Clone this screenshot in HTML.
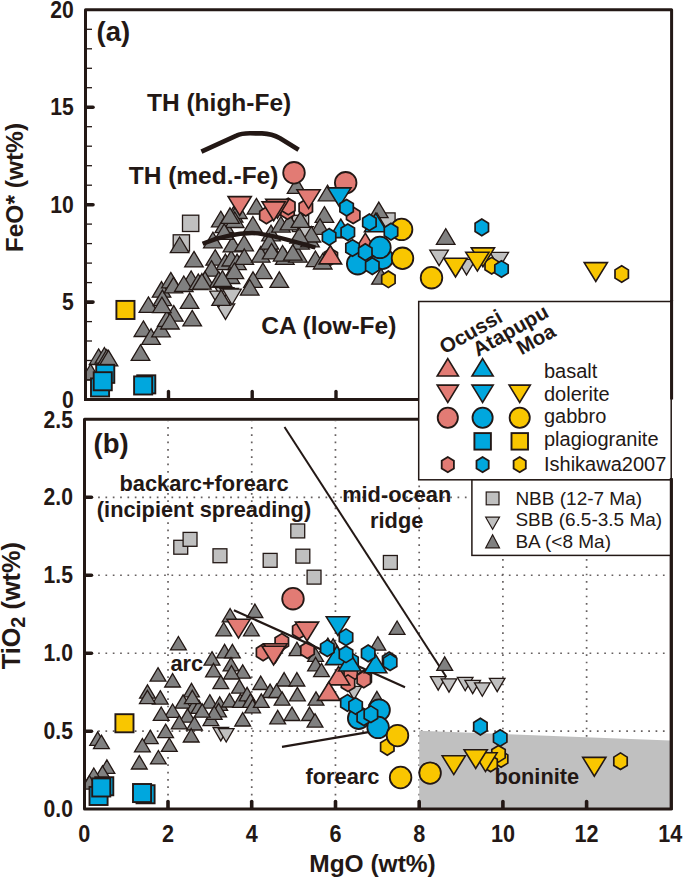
<!DOCTYPE html><html><head><meta charset="utf-8"><style>html,body{margin:0;padding:0;background:#fff;}svg{display:block;}</style></head><body><svg width="685" height="880" viewBox="0 0 685 880" font-family="Liberation Sans, sans-serif" fill="#231815">
<rect width="685" height="880" fill="#fff"/>
<defs><clipPath id="ca"><rect x="85.5" y="9.8" width="586" height="389.7"/></clipPath><clipPath id="cb"><rect x="84.5" y="419.3" width="586.8" height="389.7"/></clipPath></defs>
<line x1="168.02" y1="810.05" x2="168.02" y2="421" stroke="#666060" stroke-width="1.7" stroke-dasharray="1.7 5.635" />
<line x1="251.74" y1="810.05" x2="251.74" y2="421" stroke="#666060" stroke-width="1.7" stroke-dasharray="1.7 5.635" />
<line x1="335.46" y1="810.05" x2="335.46" y2="421" stroke="#666060" stroke-width="1.7" stroke-dasharray="1.7 5.635" />
<line x1="419.18" y1="810.05" x2="419.18" y2="421" stroke="#666060" stroke-width="1.7" stroke-dasharray="1.7 5.635" />
<line x1="502.90" y1="810.05" x2="502.90" y2="421" stroke="#666060" stroke-width="1.7" stroke-dasharray="1.7 5.635" />
<line x1="586.62" y1="810.05" x2="586.62" y2="421" stroke="#666060" stroke-width="1.7" stroke-dasharray="1.7 5.635" />
<line x1="83.45" y1="731.22" x2="670" y2="731.22" stroke="#666060" stroke-width="1.7" stroke-dasharray="1.7 5.635" />
<line x1="83.45" y1="653.24" x2="670" y2="653.24" stroke="#666060" stroke-width="1.7" stroke-dasharray="1.7 5.635" />
<line x1="83.45" y1="575.26" x2="670" y2="575.26" stroke="#666060" stroke-width="1.7" stroke-dasharray="1.7 5.635" />
<line x1="83.45" y1="497.28" x2="670" y2="497.28" stroke="#666060" stroke-width="1.7" stroke-dasharray="1.7 5.635" />
<polygon points="419.2,730.8 670,740.4 670,809 419.2,809" fill="#c0c0c0"/>
<path d="M201.4 151.6 L236.5 135.6 Q241 133.4 250 133.3 L262 133.4 Q272 133.8 280 138.2 L298.6 149.8" fill="none" stroke="#231815" stroke-width="4.6" stroke-linejoin="round"/>
<g clip-path="url(#ca)">
<rect x="182.5" y="215.2" width="16.3" height="16.3" fill="#c0c0c0" stroke="#231815" stroke-width="1.3"/>
<rect x="173.2" y="234.8" width="16.3" height="16.3" fill="#c0c0c0" stroke="#231815" stroke-width="1.3"/>
<rect x="378.8" y="212.9" width="16.3" height="16.3" fill="#c0c0c0" stroke="#231815" stroke-width="1.3"/>
<rect x="292.4" y="215.3" width="16.3" height="16.3" fill="#c0c0c0" stroke="#231815" stroke-width="1.3"/>
<path d="M215.3 287.6L233.9 287.6L224.6 303.1Z" fill="#c0c0c0" stroke="#231815" stroke-width="1.3" stroke-linejoin="miter"/>
<path d="M216.2 303.9L234.7 303.9L225.5 319.4Z" fill="#c0c0c0" stroke="#231815" stroke-width="1.3" stroke-linejoin="miter"/>
<path d="M219.8 288.4L238.3 288.4L229.1 303.9Z" fill="#c0c0c0" stroke="#231815" stroke-width="1.3" stroke-linejoin="miter"/>
<path d="M429.8 250.1L448.4 250.1L439.1 265.7Z" fill="#c0c0c0" stroke="#231815" stroke-width="1.3" stroke-linejoin="miter"/>
<path d="M457.2 259.3L475.8 259.3L466.5 274.9Z" fill="#c0c0c0" stroke="#231815" stroke-width="1.3" stroke-linejoin="miter"/>
<path d="M490.0 252.3L508.6 252.3L499.3 267.9Z" fill="#c0c0c0" stroke="#231815" stroke-width="1.3" stroke-linejoin="miter"/>
<path d="M294.7 226.7L313.3 226.7L304.0 242.3Z" fill="#c0c0c0" stroke="#231815" stroke-width="1.3" stroke-linejoin="miter"/>
<path d="M209.7 291.2L228.3 291.2L219.0 306.8Z" fill="#c0c0c0" stroke="#231815" stroke-width="1.3" stroke-linejoin="miter"/>
<path d="M222.7 289.2L241.3 289.2L232.0 304.8Z" fill="#c0c0c0" stroke="#231815" stroke-width="1.3" stroke-linejoin="miter"/>
<path d="M98.6 348.9L107.9 364.5L89.3 364.5Z" fill="#808080" stroke="#231815" stroke-width="1.3" stroke-linejoin="miter"/>
<path d="M104.4 347.5L113.7 363.1L95.1 363.1Z" fill="#808080" stroke="#231815" stroke-width="1.3" stroke-linejoin="miter"/>
<path d="M106.8 349.5L116.1 365.1L97.5 365.1Z" fill="#808080" stroke="#231815" stroke-width="1.3" stroke-linejoin="miter"/>
<path d="M108.5 350.3L117.8 365.9L99.2 365.9Z" fill="#808080" stroke="#231815" stroke-width="1.3" stroke-linejoin="miter"/>
<path d="M90.6 364.2L99.9 379.8L81.3 379.8Z" fill="#808080" stroke="#231815" stroke-width="1.3" stroke-linejoin="miter"/>
<path d="M143.4 320.9L152.7 336.5L134.1 336.5Z" fill="#808080" stroke="#231815" stroke-width="1.3" stroke-linejoin="miter"/>
<path d="M151.0 328.7L160.3 344.3L141.7 344.3Z" fill="#808080" stroke="#231815" stroke-width="1.3" stroke-linejoin="miter"/>
<path d="M140.5 344.7L149.8 360.3L131.2 360.3Z" fill="#808080" stroke="#231815" stroke-width="1.3" stroke-linejoin="miter"/>
<path d="M161.0 321.2L170.3 336.8L151.7 336.8Z" fill="#808080" stroke="#231815" stroke-width="1.3" stroke-linejoin="miter"/>
<path d="M148.4 296.9L157.7 312.4L139.1 312.4Z" fill="#808080" stroke="#231815" stroke-width="1.3" stroke-linejoin="miter"/>
<path d="M161.5 281.6L170.8 297.2L152.3 297.2Z" fill="#808080" stroke="#231815" stroke-width="1.3" stroke-linejoin="miter"/>
<path d="M162.4 290.1L171.7 305.6L153.2 305.6Z" fill="#808080" stroke="#231815" stroke-width="1.3" stroke-linejoin="miter"/>
<path d="M173.8 305.6L183.1 321.2L164.5 321.2Z" fill="#808080" stroke="#231815" stroke-width="1.3" stroke-linejoin="miter"/>
<path d="M166.8 310.9L176.1 326.4L157.5 326.4Z" fill="#808080" stroke="#231815" stroke-width="1.3" stroke-linejoin="miter"/>
<path d="M169.9 313.5L179.2 329.0L160.7 329.0Z" fill="#808080" stroke="#231815" stroke-width="1.3" stroke-linejoin="miter"/>
<path d="M192.2 310.4L201.5 325.9L182.9 325.9Z" fill="#808080" stroke="#231815" stroke-width="1.3" stroke-linejoin="miter"/>
<path d="M189.6 292.9L198.8 308.4L180.3 308.4Z" fill="#808080" stroke="#231815" stroke-width="1.3" stroke-linejoin="miter"/>
<path d="M221.1 289.9L230.4 305.4L211.8 305.4Z" fill="#808080" stroke="#231815" stroke-width="1.3" stroke-linejoin="miter"/>
<path d="M179.6 237.0L188.9 252.6L170.3 252.6Z" fill="#808080" stroke="#231815" stroke-width="1.3" stroke-linejoin="miter"/>
<path d="M194.0 251.4L203.2 266.9L184.7 266.9Z" fill="#808080" stroke="#231815" stroke-width="1.3" stroke-linejoin="miter"/>
<path d="M170.8 272.4L180.1 287.9L161.6 287.9Z" fill="#808080" stroke="#231815" stroke-width="1.3" stroke-linejoin="miter"/>
<path d="M173.5 277.3L182.7 292.8L164.2 292.8Z" fill="#808080" stroke="#231815" stroke-width="1.3" stroke-linejoin="miter"/>
<path d="M215.2 249.7L224.4 265.2L205.9 265.2Z" fill="#808080" stroke="#231815" stroke-width="1.3" stroke-linejoin="miter"/>
<path d="M225.4 254.1L234.7 269.6L216.1 269.6Z" fill="#808080" stroke="#231815" stroke-width="1.3" stroke-linejoin="miter"/>
<path d="M211.5 260.7L220.8 276.2L202.3 276.2Z" fill="#808080" stroke="#231815" stroke-width="1.3" stroke-linejoin="miter"/>
<path d="M231.2 250.5L240.5 266.0L222.0 266.0Z" fill="#808080" stroke="#231815" stroke-width="1.3" stroke-linejoin="miter"/>
<path d="M237.1 254.1L246.3 269.6L227.8 269.6Z" fill="#808080" stroke="#231815" stroke-width="1.3" stroke-linejoin="miter"/>
<path d="M191.1 270.9L200.4 286.4L181.8 286.4Z" fill="#808080" stroke="#231815" stroke-width="1.3" stroke-linejoin="miter"/>
<path d="M183.8 276.0L193.1 291.5L174.5 291.5Z" fill="#808080" stroke="#231815" stroke-width="1.3" stroke-linejoin="miter"/>
<path d="M205.0 271.6L214.2 287.1L195.7 287.1Z" fill="#808080" stroke="#231815" stroke-width="1.3" stroke-linejoin="miter"/>
<path d="M218.8 271.6L228.1 287.1L209.6 287.1Z" fill="#808080" stroke="#231815" stroke-width="1.3" stroke-linejoin="miter"/>
<path d="M230.5 268.0L239.8 283.5L221.3 283.5Z" fill="#808080" stroke="#231815" stroke-width="1.3" stroke-linejoin="miter"/>
<path d="M161.9 297.2L171.2 312.7L152.6 312.7Z" fill="#808080" stroke="#231815" stroke-width="1.3" stroke-linejoin="miter"/>
<path d="M220.8 211.2L230.1 226.8L211.5 226.8Z" fill="#808080" stroke="#231815" stroke-width="1.3" stroke-linejoin="miter"/>
<path d="M233.6 206.6L242.9 222.2L224.3 222.2Z" fill="#808080" stroke="#231815" stroke-width="1.3" stroke-linejoin="miter"/>
<path d="M237.9 202.9L247.2 218.5L228.6 218.5Z" fill="#808080" stroke="#231815" stroke-width="1.3" stroke-linejoin="miter"/>
<path d="M256.4 198.4L265.7 214.0L247.1 214.0Z" fill="#808080" stroke="#231815" stroke-width="1.3" stroke-linejoin="miter"/>
<path d="M252.9 216.5L262.2 232.1L243.6 232.1Z" fill="#808080" stroke="#231815" stroke-width="1.3" stroke-linejoin="miter"/>
<path d="M224.3 217.1L233.6 232.7L215.0 232.7Z" fill="#808080" stroke="#231815" stroke-width="1.3" stroke-linejoin="miter"/>
<path d="M212.9 232.2L222.2 247.8L203.6 247.8Z" fill="#808080" stroke="#231815" stroke-width="1.3" stroke-linejoin="miter"/>
<path d="M232.4 236.3L241.7 251.9L223.1 251.9Z" fill="#808080" stroke="#231815" stroke-width="1.3" stroke-linejoin="miter"/>
<path d="M244.1 235.2L253.4 250.8L234.8 250.8Z" fill="#808080" stroke="#231815" stroke-width="1.3" stroke-linejoin="miter"/>
<path d="M271.0 225.2L280.3 240.8L261.7 240.8Z" fill="#808080" stroke="#231815" stroke-width="1.3" stroke-linejoin="miter"/>
<path d="M270.4 239.2L279.7 254.8L261.1 254.8Z" fill="#808080" stroke="#231815" stroke-width="1.3" stroke-linejoin="miter"/>
<path d="M280.9 216.5L290.2 232.1L271.6 232.1Z" fill="#808080" stroke="#231815" stroke-width="1.3" stroke-linejoin="miter"/>
<path d="M244.3 248.8L253.6 264.4L235.0 264.4Z" fill="#808080" stroke="#231815" stroke-width="1.3" stroke-linejoin="miter"/>
<path d="M260.7 246.6L270.0 262.2L251.4 262.2Z" fill="#808080" stroke="#231815" stroke-width="1.3" stroke-linejoin="miter"/>
<path d="M269.4 233.5L278.7 249.1L260.1 249.1Z" fill="#808080" stroke="#231815" stroke-width="1.3" stroke-linejoin="miter"/>
<path d="M271.6 243.3L280.9 258.9L262.3 258.9Z" fill="#808080" stroke="#231815" stroke-width="1.3" stroke-linejoin="miter"/>
<path d="M284.8 248.8L294.1 264.4L275.5 264.4Z" fill="#808080" stroke="#231815" stroke-width="1.3" stroke-linejoin="miter"/>
<path d="M282.6 245.5L291.9 261.1L273.3 261.1Z" fill="#808080" stroke="#231815" stroke-width="1.3" stroke-linejoin="miter"/>
<path d="M297.9 246.6L307.2 262.2L288.6 262.2Z" fill="#808080" stroke="#231815" stroke-width="1.3" stroke-linejoin="miter"/>
<path d="M300.1 233.5L309.4 249.1L290.8 249.1Z" fill="#808080" stroke="#231815" stroke-width="1.3" stroke-linejoin="miter"/>
<path d="M310.0 231.3L319.3 246.9L300.7 246.9Z" fill="#808080" stroke="#231815" stroke-width="1.3" stroke-linejoin="miter"/>
<path d="M315.4 251.0L324.7 266.6L306.1 266.6Z" fill="#808080" stroke="#231815" stroke-width="1.3" stroke-linejoin="miter"/>
<path d="M262.9 263.0L272.2 278.6L253.6 278.6Z" fill="#808080" stroke="#231815" stroke-width="1.3" stroke-linejoin="miter"/>
<path d="M253.0 271.8L262.3 287.4L243.7 287.4Z" fill="#808080" stroke="#231815" stroke-width="1.3" stroke-linejoin="miter"/>
<path d="M279.3 271.8L288.6 287.4L270.0 287.4Z" fill="#808080" stroke="#231815" stroke-width="1.3" stroke-linejoin="miter"/>
<path d="M249.7 279.5L259.0 295.1L240.4 295.1Z" fill="#808080" stroke="#231815" stroke-width="1.3" stroke-linejoin="miter"/>
<path d="M198.3 274.0L207.6 289.6L189.0 289.6Z" fill="#808080" stroke="#231815" stroke-width="1.3" stroke-linejoin="miter"/>
<path d="M234.4 263.0L243.7 278.6L225.1 278.6Z" fill="#808080" stroke="#231815" stroke-width="1.3" stroke-linejoin="miter"/>
<path d="M222.4 270.7L231.7 286.3L213.1 286.3Z" fill="#808080" stroke="#231815" stroke-width="1.3" stroke-linejoin="miter"/>
<path d="M201.9 273.6L211.2 289.2L192.6 289.2Z" fill="#808080" stroke="#231815" stroke-width="1.3" stroke-linejoin="miter"/>
<path d="M234.7 211.9L244.0 227.5L225.4 227.5Z" fill="#808080" stroke="#231815" stroke-width="1.3" stroke-linejoin="miter"/>
<path d="M296.6 177.7L305.9 193.3L287.3 193.3Z" fill="#808080" stroke="#231815" stroke-width="1.3" stroke-linejoin="miter"/>
<path d="M327.5 185.2L336.8 200.8L318.2 200.8Z" fill="#808080" stroke="#231815" stroke-width="1.3" stroke-linejoin="miter"/>
<path d="M324.4 206.7L333.7 222.3L315.1 222.3Z" fill="#808080" stroke="#231815" stroke-width="1.3" stroke-linejoin="miter"/>
<path d="M378.8 202.1L388.1 217.7L369.5 217.7Z" fill="#808080" stroke="#231815" stroke-width="1.3" stroke-linejoin="miter"/>
<path d="M320.0 218.7L329.3 234.3L310.7 234.3Z" fill="#808080" stroke="#231815" stroke-width="1.3" stroke-linejoin="miter"/>
<path d="M311.3 226.4L320.6 242.0L302.0 242.0Z" fill="#808080" stroke="#231815" stroke-width="1.3" stroke-linejoin="miter"/>
<path d="M299.2 227.5L308.5 243.1L289.9 243.1Z" fill="#808080" stroke="#231815" stroke-width="1.3" stroke-linejoin="miter"/>
<path d="M289.4 214.3L298.7 229.9L280.1 229.9Z" fill="#808080" stroke="#231815" stroke-width="1.3" stroke-linejoin="miter"/>
<path d="M377.0 213.0L386.3 228.6L367.7 228.6Z" fill="#808080" stroke="#231815" stroke-width="1.3" stroke-linejoin="miter"/>
<path d="M445.7 228.7L455.0 244.3L436.4 244.3Z" fill="#808080" stroke="#231815" stroke-width="1.3" stroke-linejoin="miter"/>
<path d="M322.7 253.4L332.0 269.0L313.4 269.0Z" fill="#808080" stroke="#231815" stroke-width="1.3" stroke-linejoin="miter"/>
<path d="M381.0 268.6L390.3 284.2L371.7 284.2Z" fill="#808080" stroke="#231815" stroke-width="1.3" stroke-linejoin="miter"/>
<path d="M230.0 207.8L239.3 223.3L220.8 223.3Z" fill="#808080" stroke="#231815" stroke-width="1.3" stroke-linejoin="miter"/>
<path d="M224.2 223.9L233.5 239.4L214.9 239.4Z" fill="#808080" stroke="#231815" stroke-width="1.3" stroke-linejoin="miter"/>
<path d="M300.4 211.8L309.7 227.4L291.1 227.4Z" fill="#808080" stroke="#231815" stroke-width="1.3" stroke-linejoin="miter"/>
<path d="M292.8 244.6L302.1 260.2L283.5 260.2Z" fill="#808080" stroke="#231815" stroke-width="1.3" stroke-linejoin="miter"/>
<polygon points="266.4,207.1 259.7,211.2 259.7,219.6 266.4,223.7 273.1,219.6 273.1,211.2" fill="#e27b74" stroke="#231815" stroke-width="1.7" stroke-linejoin="miter"/>
<polygon points="287.5,202.7 280.8,206.8 280.8,215.2 287.5,219.3 294.2,215.2 294.2,206.8" fill="#e27b74" stroke="#231815" stroke-width="1.7" stroke-linejoin="miter"/>
<polygon points="305.8,199.3 299.1,203.4 299.1,211.8 305.8,215.9 312.5,211.8 312.5,203.4" fill="#e27b74" stroke="#231815" stroke-width="1.7" stroke-linejoin="miter"/>
<polygon points="353.2,207.0 346.5,211.2 346.5,219.5 353.2,223.6 359.9,219.5 359.9,211.2" fill="#e27b74" stroke="#231815" stroke-width="1.7" stroke-linejoin="miter"/>
<polygon points="288.3,198.2 281.6,202.3 281.6,210.7 288.3,214.8 295.0,210.7 295.0,202.3" fill="#e27b74" stroke="#231815" stroke-width="1.7" stroke-linejoin="miter"/>
<polygon points="330.8,248.4 324.1,252.5 324.1,260.8 330.8,265.0 337.5,260.8 337.5,252.5" fill="#e27b74" stroke="#231815" stroke-width="1.7" stroke-linejoin="miter"/>
<polygon points="388.4,271.0 381.7,275.2 381.7,283.4 388.4,287.6 395.1,283.4 395.1,275.2" fill="#f9c600" stroke="#231815" stroke-width="1.7" stroke-linejoin="miter"/>
<polygon points="491.7,257.4 485.0,261.6 485.0,269.8 491.7,274.0 498.4,269.8 498.4,261.6" fill="#f9c600" stroke="#231815" stroke-width="1.7" stroke-linejoin="miter"/>
<polygon points="621.7,265.7 615.0,269.9 615.0,278.1 621.7,282.3 628.4,278.1 628.4,269.9" fill="#f9c600" stroke="#231815" stroke-width="1.7" stroke-linejoin="miter"/>
<circle cx="294.0" cy="172.8" r="10.8" fill="#e27b74" stroke="#231815" stroke-width="1.8"/>
<circle cx="345.7" cy="182.8" r="10.8" fill="#e27b74" stroke="#231815" stroke-width="1.8"/>
<path d="M265.8 199.4L289.0 199.4L277.4 218.2Z" fill="#e27b74" stroke="#231815" stroke-width="1.6" stroke-linejoin="miter"/>
<path d="M262.1 201.9L285.3 201.9L273.7 220.7Z" fill="#e27b74" stroke="#231815" stroke-width="1.6" stroke-linejoin="miter"/>
<path d="M228.1 196.6L251.3 196.6L239.7 215.4Z" fill="#e27b74" stroke="#231815" stroke-width="1.6" stroke-linejoin="miter"/>
<path d="M297.0 189.8L320.2 189.8L308.6 208.6Z" fill="#e27b74" stroke="#231815" stroke-width="1.6" stroke-linejoin="miter"/>
<path d="M330.3 245.5L341.6 263.9L319.0 263.9Z" fill="#e27b74" stroke="#231815" stroke-width="1.6" stroke-linejoin="miter"/>
<path d="M365.3 233.2L376.6 251.6L354.0 251.6Z" fill="#e27b74" stroke="#231815" stroke-width="1.6" stroke-linejoin="miter"/>
<path d="M202.6 243.7 C218 237.5 236 233 252 233 C268 233.3 290 240.5 315.5 247.5" fill="none" stroke="#231815" stroke-width="4.4"/>
<circle cx="382.3" cy="258.3" r="10.8" fill="#00a7de" stroke="#231815" stroke-width="1.8"/>
<circle cx="357.7" cy="263.7" r="10.8" fill="#00a7de" stroke="#231815" stroke-width="1.8"/>
<circle cx="379.9" cy="247.4" r="10.8" fill="#00a7de" stroke="#231815" stroke-width="1.8"/>
<rect x="91.0" y="378.4" width="18.1" height="18.1" fill="#00a7de" stroke="#231815" stroke-width="1.9"/>
<rect x="96.2" y="364.8" width="18.1" height="18.1" fill="#00a7de" stroke="#231815" stroke-width="1.9"/>
<rect x="93.7" y="372.2" width="18.1" height="18.1" fill="#00a7de" stroke="#231815" stroke-width="1.9"/>
<rect x="137.2" y="375.3" width="18.1" height="18.1" fill="#00a7de" stroke="#231815" stroke-width="1.9"/>
<rect x="134.1" y="376.4" width="18.1" height="18.1" fill="#00a7de" stroke="#231815" stroke-width="1.9"/>
<circle cx="401.6" cy="229.4" r="10.8" fill="#f9c600" stroke="#231815" stroke-width="1.8"/>
<circle cx="402.5" cy="258.3" r="10.8" fill="#f9c600" stroke="#231815" stroke-width="1.8"/>
<circle cx="431.5" cy="277.7" r="10.8" fill="#f9c600" stroke="#231815" stroke-width="1.8"/>
<path d="M471.3 247.9L494.5 247.9L482.9 266.7Z" fill="#f9c600" stroke="#231815" stroke-width="1.6" stroke-linejoin="miter"/>
<path d="M465.8 252.3L489.0 252.3L477.4 271.1Z" fill="#f9c600" stroke="#231815" stroke-width="1.6" stroke-linejoin="miter"/>
<path d="M443.9 258.2L467.1 258.2L455.5 277.0Z" fill="#f9c600" stroke="#231815" stroke-width="1.6" stroke-linejoin="miter"/>
<path d="M584.2 262.6L607.4 262.6L595.8 281.4Z" fill="#f9c600" stroke="#231815" stroke-width="1.6" stroke-linejoin="miter"/>
<rect x="116.4" y="300.9" width="18.1" height="18.1" fill="#f9c600" stroke="#231815" stroke-width="1.9"/>
<path d="M327.8 187.9L351.0 187.9L339.4 206.7Z" fill="#00a7de" stroke="#231815" stroke-width="1.6" stroke-linejoin="miter"/>
<path d="M375.8 213.4L387.1 231.8L364.5 231.8Z" fill="#00a7de" stroke="#231815" stroke-width="1.6" stroke-linejoin="miter"/>
<path d="M340.8 219.2L352.1 237.6L329.5 237.6Z" fill="#00a7de" stroke="#231815" stroke-width="1.6" stroke-linejoin="miter"/>
<polygon points="346.6,199.4 339.9,203.5 339.9,211.8 346.6,216.0 353.3,211.8 353.3,203.5" fill="#00a7de" stroke="#231815" stroke-width="1.7" stroke-linejoin="miter"/>
<polygon points="369.4,214.0 362.7,218.2 362.7,226.5 369.4,230.6 376.1,226.5 376.1,218.2" fill="#00a7de" stroke="#231815" stroke-width="1.7" stroke-linejoin="miter"/>
<polygon points="391.0,223.3 384.3,227.4 384.3,235.8 391.0,239.9 397.7,235.8 397.7,227.4" fill="#00a7de" stroke="#231815" stroke-width="1.7" stroke-linejoin="miter"/>
<polygon points="329.1,228.6 322.4,232.8 322.4,241.1 329.1,245.2 335.8,241.1 335.8,232.8" fill="#00a7de" stroke="#231815" stroke-width="1.7" stroke-linejoin="miter"/>
<polygon points="347.8,223.9 341.1,228.0 341.1,236.3 347.8,240.5 354.5,236.3 354.5,228.0" fill="#00a7de" stroke="#231815" stroke-width="1.7" stroke-linejoin="miter"/>
<polygon points="352.5,239.7 345.8,243.8 345.8,252.2 352.5,256.3 359.2,252.2 359.2,243.8" fill="#00a7de" stroke="#231815" stroke-width="1.7" stroke-linejoin="miter"/>
<polygon points="365.3,243.8 358.6,247.9 358.6,256.2 365.3,260.4 372.0,256.2 372.0,247.9" fill="#00a7de" stroke="#231815" stroke-width="1.7" stroke-linejoin="miter"/>
<polygon points="372.3,257.8 365.6,262.0 365.6,270.2 372.3,274.4 379.0,270.2 379.0,262.0" fill="#00a7de" stroke="#231815" stroke-width="1.7" stroke-linejoin="miter"/>
<polygon points="481.8,219.1 475.1,223.2 475.1,231.6 481.8,235.7 488.5,231.6 488.5,223.2" fill="#00a7de" stroke="#231815" stroke-width="1.7" stroke-linejoin="miter"/>
<polygon points="501.5,260.7 494.8,264.9 494.8,273.1 501.5,277.3 508.2,273.1 508.2,264.9" fill="#00a7de" stroke="#231815" stroke-width="1.7" stroke-linejoin="miter"/>
</g>
<g clip-path="url(#cb)">
<line x1="284.5" y1="427" x2="446" y2="676.5" stroke="#231815" stroke-width="2"/>
<rect x="173.8" y="540.3" width="13.9" height="13.9" fill="#c0c0c0" stroke="#231815" stroke-width="1.3"/>
<rect x="183.1" y="532.4" width="13.9" height="13.9" fill="#c0c0c0" stroke="#231815" stroke-width="1.3"/>
<rect x="213.0" y="548.8" width="13.9" height="13.9" fill="#c0c0c0" stroke="#231815" stroke-width="1.3"/>
<rect x="263.2" y="553.4" width="13.9" height="13.9" fill="#c0c0c0" stroke="#231815" stroke-width="1.3"/>
<rect x="290.8" y="524.0" width="13.9" height="13.9" fill="#c0c0c0" stroke="#231815" stroke-width="1.3"/>
<rect x="295.9" y="549.2" width="13.9" height="13.9" fill="#c0c0c0" stroke="#231815" stroke-width="1.3"/>
<rect x="307.1" y="570.2" width="13.9" height="13.9" fill="#c0c0c0" stroke="#231815" stroke-width="1.3"/>
<rect x="383.4" y="555.5" width="13.9" height="13.9" fill="#c0c0c0" stroke="#231815" stroke-width="1.3"/>
<path d="M430.4 676.7L446.0 676.7L438.2 690.1Z" fill="#c0c0c0" stroke="#231815" stroke-width="1.3" stroke-linejoin="miter"/>
<path d="M441.2 678.8L456.8 678.8L449.0 692.2Z" fill="#c0c0c0" stroke="#231815" stroke-width="1.3" stroke-linejoin="miter"/>
<path d="M457.4 677.4L473.0 677.4L465.2 690.8Z" fill="#c0c0c0" stroke="#231815" stroke-width="1.3" stroke-linejoin="miter"/>
<path d="M464.9 680.3L480.5 680.3L472.7 693.7Z" fill="#c0c0c0" stroke="#231815" stroke-width="1.3" stroke-linejoin="miter"/>
<path d="M474.5 682.9L490.1 682.9L482.3 696.3Z" fill="#c0c0c0" stroke="#231815" stroke-width="1.3" stroke-linejoin="miter"/>
<path d="M489.4 678.3L505.0 678.3L497.2 691.7Z" fill="#c0c0c0" stroke="#231815" stroke-width="1.3" stroke-linejoin="miter"/>
<path d="M213.0 727.5L228.6 727.5L220.8 740.9Z" fill="#c0c0c0" stroke="#231815" stroke-width="1.3" stroke-linejoin="miter"/>
<path d="M218.4 728.6L234.0 728.6L226.2 742.0Z" fill="#c0c0c0" stroke="#231815" stroke-width="1.3" stroke-linejoin="miter"/>
<path d="M346.2 686.3L361.8 686.3L354.0 699.7Z" fill="#c0c0c0" stroke="#231815" stroke-width="1.3" stroke-linejoin="miter"/>
<path d="M178.4 636.5L186.3 649.9L170.5 649.9Z" fill="#808080" stroke="#231815" stroke-width="1.3" stroke-linejoin="miter"/>
<path d="M230.1 608.5L238.0 621.9L222.2 621.9Z" fill="#808080" stroke="#231815" stroke-width="1.3" stroke-linejoin="miter"/>
<path d="M254.9 604.1L262.8 617.5L247.0 617.5Z" fill="#808080" stroke="#231815" stroke-width="1.3" stroke-linejoin="miter"/>
<path d="M223.7 622.5L231.6 635.9L215.8 635.9Z" fill="#808080" stroke="#231815" stroke-width="1.3" stroke-linejoin="miter"/>
<path d="M251.4 622.5L259.3 635.9L243.5 635.9Z" fill="#808080" stroke="#231815" stroke-width="1.3" stroke-linejoin="miter"/>
<path d="M212.0 651.7L219.9 665.1L204.1 665.1Z" fill="#808080" stroke="#231815" stroke-width="1.3" stroke-linejoin="miter"/>
<path d="M224.6 644.4L232.5 657.8L216.7 657.8Z" fill="#808080" stroke="#231815" stroke-width="1.3" stroke-linejoin="miter"/>
<path d="M232.4 644.4L240.3 657.8L224.5 657.8Z" fill="#808080" stroke="#231815" stroke-width="1.3" stroke-linejoin="miter"/>
<path d="M231.0 657.5L238.9 670.9L223.1 670.9Z" fill="#808080" stroke="#231815" stroke-width="1.3" stroke-linejoin="miter"/>
<path d="M213.5 663.4L221.4 676.8L205.6 676.8Z" fill="#808080" stroke="#231815" stroke-width="1.3" stroke-linejoin="miter"/>
<path d="M242.7 664.8L250.6 678.2L234.8 678.2Z" fill="#808080" stroke="#231815" stroke-width="1.3" stroke-linejoin="miter"/>
<path d="M158.0 667.7L165.9 681.1L150.1 681.1Z" fill="#808080" stroke="#231815" stroke-width="1.3" stroke-linejoin="miter"/>
<path d="M172.6 673.6L180.5 687.0L164.7 687.0Z" fill="#808080" stroke="#231815" stroke-width="1.3" stroke-linejoin="miter"/>
<path d="M231.5 665.6L239.4 679.0L223.6 679.0Z" fill="#808080" stroke="#231815" stroke-width="1.3" stroke-linejoin="miter"/>
<path d="M296.9 642.2L304.8 655.6L289.0 655.6Z" fill="#808080" stroke="#231815" stroke-width="1.3" stroke-linejoin="miter"/>
<path d="M315.6 648.0L323.5 661.4L307.7 661.4Z" fill="#808080" stroke="#231815" stroke-width="1.3" stroke-linejoin="miter"/>
<path d="M315.6 657.4L323.5 670.8L307.7 670.8Z" fill="#808080" stroke="#231815" stroke-width="1.3" stroke-linejoin="miter"/>
<path d="M333.1 638.7L341.0 652.1L325.2 652.1Z" fill="#808080" stroke="#231815" stroke-width="1.3" stroke-linejoin="miter"/>
<path d="M284.1 672.6L292.0 686.0L276.2 686.0Z" fill="#808080" stroke="#231815" stroke-width="1.3" stroke-linejoin="miter"/>
<path d="M296.9 672.6L304.8 686.0L289.0 686.0Z" fill="#808080" stroke="#231815" stroke-width="1.3" stroke-linejoin="miter"/>
<path d="M260.7 676.1L268.6 689.5L252.8 689.5Z" fill="#808080" stroke="#231815" stroke-width="1.3" stroke-linejoin="miter"/>
<path d="M147.5 684.8L155.4 698.2L139.6 698.2Z" fill="#808080" stroke="#231815" stroke-width="1.3" stroke-linejoin="miter"/>
<path d="M160.3 690.7L168.2 704.1L152.4 704.1Z" fill="#808080" stroke="#231815" stroke-width="1.3" stroke-linejoin="miter"/>
<path d="M191.5 683.4L199.4 696.8L183.6 696.8Z" fill="#808080" stroke="#231815" stroke-width="1.3" stroke-linejoin="miter"/>
<path d="M183.1 694.8L191.0 708.2L175.2 708.2Z" fill="#808080" stroke="#231815" stroke-width="1.3" stroke-linejoin="miter"/>
<path d="M172.6 704.0L180.5 717.4L164.7 717.4Z" fill="#808080" stroke="#231815" stroke-width="1.3" stroke-linejoin="miter"/>
<path d="M161.2 707.0L169.1 720.4L153.3 720.4Z" fill="#808080" stroke="#231815" stroke-width="1.3" stroke-linejoin="miter"/>
<path d="M193.6 700.0L201.5 713.4L185.7 713.4Z" fill="#808080" stroke="#231815" stroke-width="1.3" stroke-linejoin="miter"/>
<path d="M198.9 700.0L206.8 713.4L191.0 713.4Z" fill="#808080" stroke="#231815" stroke-width="1.3" stroke-linejoin="miter"/>
<path d="M187.5 708.8L195.4 722.2L179.6 722.2Z" fill="#808080" stroke="#231815" stroke-width="1.3" stroke-linejoin="miter"/>
<path d="M97.7 731.9L105.6 745.3L89.8 745.3Z" fill="#808080" stroke="#231815" stroke-width="1.3" stroke-linejoin="miter"/>
<path d="M101.4 735.2L109.3 748.6L93.5 748.6Z" fill="#808080" stroke="#231815" stroke-width="1.3" stroke-linejoin="miter"/>
<path d="M106.9 759.9L114.8 773.3L99.0 773.3Z" fill="#808080" stroke="#231815" stroke-width="1.3" stroke-linejoin="miter"/>
<path d="M102.5 765.8L110.4 779.2L94.6 779.2Z" fill="#808080" stroke="#231815" stroke-width="1.3" stroke-linejoin="miter"/>
<path d="M93.8 768.0L101.7 781.4L85.9 781.4Z" fill="#808080" stroke="#231815" stroke-width="1.3" stroke-linejoin="miter"/>
<path d="M89.4 775.7L97.3 789.1L81.5 789.1Z" fill="#808080" stroke="#231815" stroke-width="1.3" stroke-linejoin="miter"/>
<path d="M150.3 730.2L158.2 743.6L142.4 743.6Z" fill="#808080" stroke="#231815" stroke-width="1.3" stroke-linejoin="miter"/>
<path d="M142.4 738.5L150.3 751.9L134.5 751.9Z" fill="#808080" stroke="#231815" stroke-width="1.3" stroke-linejoin="miter"/>
<path d="M139.3 755.6L147.2 769.0L131.4 769.0Z" fill="#808080" stroke="#231815" stroke-width="1.3" stroke-linejoin="miter"/>
<path d="M158.4 750.5L166.3 763.9L150.5 763.9Z" fill="#808080" stroke="#231815" stroke-width="1.3" stroke-linejoin="miter"/>
<path d="M165.6 724.2L173.5 737.6L157.7 737.6Z" fill="#808080" stroke="#231815" stroke-width="1.3" stroke-linejoin="miter"/>
<path d="M169.3 738.0L177.2 751.4L161.4 751.4Z" fill="#808080" stroke="#231815" stroke-width="1.3" stroke-linejoin="miter"/>
<path d="M147.4 690.3L155.3 703.7L139.5 703.7Z" fill="#808080" stroke="#231815" stroke-width="1.3" stroke-linejoin="miter"/>
<path d="M192.3 690.3L200.2 703.7L184.4 703.7Z" fill="#808080" stroke="#231815" stroke-width="1.3" stroke-linejoin="miter"/>
<path d="M209.8 694.7L217.7 708.1L201.9 708.1Z" fill="#808080" stroke="#231815" stroke-width="1.3" stroke-linejoin="miter"/>
<path d="M219.7 696.9L227.6 710.3L211.8 710.3Z" fill="#808080" stroke="#231815" stroke-width="1.3" stroke-linejoin="miter"/>
<path d="M229.5 693.6L237.4 707.0L221.6 707.0Z" fill="#808080" stroke="#231815" stroke-width="1.3" stroke-linejoin="miter"/>
<path d="M194.5 716.6L202.4 730.0L186.6 730.0Z" fill="#808080" stroke="#231815" stroke-width="1.3" stroke-linejoin="miter"/>
<path d="M210.9 712.2L218.8 725.6L203.0 725.6Z" fill="#808080" stroke="#231815" stroke-width="1.3" stroke-linejoin="miter"/>
<path d="M218.6 703.4L226.5 716.8L210.7 716.8Z" fill="#808080" stroke="#231815" stroke-width="1.3" stroke-linejoin="miter"/>
<path d="M191.2 728.6L199.1 742.0L183.3 742.0Z" fill="#808080" stroke="#231815" stroke-width="1.3" stroke-linejoin="miter"/>
<path d="M179.2 715.5L187.1 728.9L171.3 728.9Z" fill="#808080" stroke="#231815" stroke-width="1.3" stroke-linejoin="miter"/>
<path d="M220.8 675.3L228.7 688.7L212.9 688.7Z" fill="#808080" stroke="#231815" stroke-width="1.3" stroke-linejoin="miter"/>
<path d="M239.4 679.7L247.3 693.1L231.5 693.1Z" fill="#808080" stroke="#231815" stroke-width="1.3" stroke-linejoin="miter"/>
<path d="M240.5 693.9L248.4 707.3L232.6 707.3Z" fill="#808080" stroke="#231815" stroke-width="1.3" stroke-linejoin="miter"/>
<path d="M247.1 687.4L255.0 700.8L239.2 700.8Z" fill="#808080" stroke="#231815" stroke-width="1.3" stroke-linejoin="miter"/>
<path d="M250.4 693.9L258.3 707.3L242.5 707.3Z" fill="#808080" stroke="#231815" stroke-width="1.3" stroke-linejoin="miter"/>
<path d="M214.2 706.0L222.1 719.4L206.3 719.4Z" fill="#808080" stroke="#231815" stroke-width="1.3" stroke-linejoin="miter"/>
<path d="M252.6 699.4L260.5 712.8L244.7 712.8Z" fill="#808080" stroke="#231815" stroke-width="1.3" stroke-linejoin="miter"/>
<path d="M242.7 712.6L250.6 726.0L234.8 726.0Z" fill="#808080" stroke="#231815" stroke-width="1.3" stroke-linejoin="miter"/>
<path d="M202.2 703.8L210.1 717.2L194.3 717.2Z" fill="#808080" stroke="#231815" stroke-width="1.3" stroke-linejoin="miter"/>
<path d="M270.1 684.1L278.0 697.5L262.2 697.5Z" fill="#808080" stroke="#231815" stroke-width="1.3" stroke-linejoin="miter"/>
<path d="M261.3 693.9L269.2 707.3L253.4 707.3Z" fill="#808080" stroke="#231815" stroke-width="1.3" stroke-linejoin="miter"/>
<path d="M276.6 684.1L284.5 697.5L268.7 697.5Z" fill="#808080" stroke="#231815" stroke-width="1.3" stroke-linejoin="miter"/>
<path d="M282.1 691.8L290.0 705.2L274.2 705.2Z" fill="#808080" stroke="#231815" stroke-width="1.3" stroke-linejoin="miter"/>
<path d="M297.4 687.4L305.3 700.8L289.5 700.8Z" fill="#808080" stroke="#231815" stroke-width="1.3" stroke-linejoin="miter"/>
<path d="M277.7 710.4L285.6 723.8L269.8 723.8Z" fill="#808080" stroke="#231815" stroke-width="1.3" stroke-linejoin="miter"/>
<path d="M292.0 707.1L299.9 720.5L284.1 720.5Z" fill="#808080" stroke="#231815" stroke-width="1.3" stroke-linejoin="miter"/>
<path d="M309.5 707.1L317.4 720.5L301.6 720.5Z" fill="#808080" stroke="#231815" stroke-width="1.3" stroke-linejoin="miter"/>
<path d="M315.0 713.7L322.9 727.1L307.1 727.1Z" fill="#808080" stroke="#231815" stroke-width="1.3" stroke-linejoin="miter"/>
<path d="M316.0 691.8L323.9 705.2L308.1 705.2Z" fill="#808080" stroke="#231815" stroke-width="1.3" stroke-linejoin="miter"/>
<path d="M321.5 663.3L329.4 676.7L313.6 676.7Z" fill="#808080" stroke="#231815" stroke-width="1.3" stroke-linejoin="miter"/>
<path d="M397.1 621.0L405.0 634.4L389.2 634.4Z" fill="#808080" stroke="#231815" stroke-width="1.3" stroke-linejoin="miter"/>
<path d="M377.8 636.7L385.7 650.1L369.9 650.1Z" fill="#808080" stroke="#231815" stroke-width="1.3" stroke-linejoin="miter"/>
<path d="M327.9 638.0L335.8 651.4L320.0 651.4Z" fill="#808080" stroke="#231815" stroke-width="1.3" stroke-linejoin="miter"/>
<path d="M376.9 691.4L384.8 704.8L369.0 704.8Z" fill="#808080" stroke="#231815" stroke-width="1.3" stroke-linejoin="miter"/>
<path d="M444.7 656.9L452.6 670.3L436.8 670.3Z" fill="#808080" stroke="#231815" stroke-width="1.3" stroke-linejoin="miter"/>
<polygon points="281.8,633.6 275.1,637.8 275.1,646.0 281.8,650.2 288.5,646.0 288.5,637.8" fill="#e27b74" stroke="#231815" stroke-width="1.7" stroke-linejoin="miter"/>
<polygon points="307.5,641.8 300.8,646.0 300.8,654.2 307.5,658.4 314.2,654.2 314.2,646.0" fill="#e27b74" stroke="#231815" stroke-width="1.7" stroke-linejoin="miter"/>
<polygon points="263.1,644.1 256.4,648.2 256.4,656.5 263.1,660.7 269.8,656.5 269.8,648.2" fill="#e27b74" stroke="#231815" stroke-width="1.7" stroke-linejoin="miter"/>
<polygon points="299.3,621.9 292.6,626.1 292.6,634.4 299.3,638.5 306.0,634.4 306.0,626.1" fill="#e27b74" stroke="#231815" stroke-width="1.7" stroke-linejoin="miter"/>
<polygon points="364.7,669.7 358.0,673.9 358.0,682.1 364.7,686.3 371.4,682.1 371.4,673.9" fill="#e27b74" stroke="#231815" stroke-width="1.7" stroke-linejoin="miter"/>
<polygon points="350.7,665.3 344.0,669.5 344.0,677.8 350.7,681.9 357.4,677.8 357.4,669.5" fill="#e27b74" stroke="#231815" stroke-width="1.7" stroke-linejoin="miter"/>
<polygon points="348.0,674.9 341.3,679.1 341.3,687.4 348.0,691.5 354.7,687.4 354.7,679.1" fill="#e27b74" stroke="#231815" stroke-width="1.7" stroke-linejoin="miter"/>
<polygon points="363.8,671.1 357.1,675.2 357.1,683.5 363.8,687.7 370.5,683.5 370.5,675.2" fill="#e27b74" stroke="#231815" stroke-width="1.7" stroke-linejoin="miter"/>
<polygon points="387.3,738.6 380.6,742.8 380.6,751.0 387.3,755.2 394.0,751.0 394.0,742.8" fill="#f9c600" stroke="#231815" stroke-width="1.7" stroke-linejoin="miter"/>
<polygon points="501.1,750.7 494.4,754.9 494.4,763.1 501.1,767.3 507.8,763.1 507.8,754.9" fill="#f9c600" stroke="#231815" stroke-width="1.7" stroke-linejoin="miter"/>
<polygon points="498.5,745.5 491.8,749.6 491.8,757.9 498.5,762.1 505.2,757.9 505.2,749.6" fill="#f9c600" stroke="#231815" stroke-width="1.7" stroke-linejoin="miter"/>
<polygon points="490.6,755.1 483.9,759.2 483.9,767.5 490.6,771.7 497.3,767.5 497.3,759.2" fill="#f9c600" stroke="#231815" stroke-width="1.7" stroke-linejoin="miter"/>
<polygon points="620.5,752.9 613.8,757.1 613.8,765.4 620.5,769.5 627.2,765.4 627.2,757.1" fill="#f9c600" stroke="#231815" stroke-width="1.7" stroke-linejoin="miter"/>
<circle cx="293.0" cy="598.7" r="10.8" fill="#e27b74" stroke="#231815" stroke-width="1.8"/>
<path d="M263.9 643.8L287.1 643.8L275.5 662.6Z" fill="#e27b74" stroke="#231815" stroke-width="1.6" stroke-linejoin="miter"/>
<path d="M262.0 646.2L285.2 646.2L273.6 665.0Z" fill="#e27b74" stroke="#231815" stroke-width="1.6" stroke-linejoin="miter"/>
<path d="M226.9 619.3L250.1 619.3L238.5 638.1Z" fill="#e27b74" stroke="#231815" stroke-width="1.6" stroke-linejoin="miter"/>
<path d="M295.4 622.1L318.6 622.1L307.0 640.9Z" fill="#e27b74" stroke="#231815" stroke-width="1.6" stroke-linejoin="miter"/>
<path d="M338.5 666.5L349.8 684.9L327.2 684.9Z" fill="#e27b74" stroke="#231815" stroke-width="1.6" stroke-linejoin="miter"/>
<path d="M328.8 682.0L340.1 700.4L317.5 700.4Z" fill="#e27b74" stroke="#231815" stroke-width="1.6" stroke-linejoin="miter"/>
<line x1="233.9" y1="610.2" x2="405" y2="687.2" stroke="#231815" stroke-width="2.2"/>
<line x1="282" y1="746.9" x2="369.9" y2="731.9" stroke="#231815" stroke-width="2.2"/>
<circle cx="379.1" cy="710.1" r="10.8" fill="#00a7de" stroke="#231815" stroke-width="1.8"/>
<circle cx="358.7" cy="718.2" r="10.8" fill="#00a7de" stroke="#231815" stroke-width="1.8"/>
<circle cx="378.1" cy="727.4" r="10.8" fill="#00a7de" stroke="#231815" stroke-width="1.8"/>
<rect x="95.2" y="777.2" width="18.1" height="18.1" fill="#00a7de" stroke="#231815" stroke-width="1.9"/>
<rect x="89.5" y="786.9" width="18.1" height="18.1" fill="#00a7de" stroke="#231815" stroke-width="1.9"/>
<rect x="92.2" y="778.4" width="18.1" height="18.1" fill="#00a7de" stroke="#231815" stroke-width="1.9"/>
<rect x="136.5" y="785.2" width="18.1" height="18.1" fill="#00a7de" stroke="#231815" stroke-width="1.9"/>
<rect x="133.0" y="784.0" width="18.1" height="18.1" fill="#00a7de" stroke="#231815" stroke-width="1.9"/>
<circle cx="397.5" cy="735.6" r="10.8" fill="#f9c600" stroke="#231815" stroke-width="1.8"/>
<circle cx="400.6" cy="777.5" r="10.8" fill="#f9c600" stroke="#231815" stroke-width="1.8"/>
<circle cx="430.1" cy="773.1" r="10.8" fill="#f9c600" stroke="#231815" stroke-width="1.8"/>
<path d="M473.9 752.8L497.1 752.8L485.5 771.6Z" fill="#f9c600" stroke="#231815" stroke-width="1.6" stroke-linejoin="miter"/>
<path d="M464.1 749.7L487.3 749.7L475.7 768.5Z" fill="#f9c600" stroke="#231815" stroke-width="1.6" stroke-linejoin="miter"/>
<path d="M442.2 755.8L465.4 755.8L453.8 774.6Z" fill="#f9c600" stroke="#231815" stroke-width="1.6" stroke-linejoin="miter"/>
<path d="M582.7 757.4L605.9 757.4L594.3 776.2Z" fill="#f9c600" stroke="#231815" stroke-width="1.6" stroke-linejoin="miter"/>
<rect x="115.4" y="714.2" width="18.1" height="18.1" fill="#f9c600" stroke="#231815" stroke-width="1.9"/>
<polygon points="351.5,652.9 344.8,657.1 344.8,665.4 351.5,669.5 358.2,665.4 358.2,657.1" fill="#00a7de" stroke="#231815" stroke-width="1.7" stroke-linejoin="miter"/>
<path d="M326.3 616.8L349.5 616.8L337.9 635.6Z" fill="#00a7de" stroke="#231815" stroke-width="1.6" stroke-linejoin="miter"/>
<path d="M375.5 654.4L386.8 672.8L364.2 672.8Z" fill="#00a7de" stroke="#231815" stroke-width="1.6" stroke-linejoin="miter"/>
<path d="M336.9 646.2L348.2 664.6L325.6 664.6Z" fill="#00a7de" stroke="#231815" stroke-width="1.6" stroke-linejoin="miter"/>
<path d="M349.8 652.6L361.1 671.0L338.5 671.0Z" fill="#00a7de" stroke="#231815" stroke-width="1.6" stroke-linejoin="miter"/>
<polygon points="346.0,628.9 339.3,633.1 339.3,641.4 346.0,645.5 352.7,641.4 352.7,633.1" fill="#00a7de" stroke="#231815" stroke-width="1.7" stroke-linejoin="miter"/>
<polygon points="327.3,639.9 320.6,644.1 320.6,652.4 327.3,656.5 334.0,652.4 334.0,644.1" fill="#00a7de" stroke="#231815" stroke-width="1.7" stroke-linejoin="miter"/>
<polygon points="346.0,646.0 339.3,650.1 339.3,658.4 346.0,662.6 352.7,658.4 352.7,650.1" fill="#00a7de" stroke="#231815" stroke-width="1.7" stroke-linejoin="miter"/>
<polygon points="368.2,645.1 361.5,649.2 361.5,657.5 368.2,661.7 374.9,657.5 374.9,649.2" fill="#00a7de" stroke="#231815" stroke-width="1.7" stroke-linejoin="miter"/>
<polygon points="389.2,652.1 382.5,656.2 382.5,664.5 389.2,668.7 395.9,664.5 395.9,656.2" fill="#00a7de" stroke="#231815" stroke-width="1.7" stroke-linejoin="miter"/>
<polygon points="390.1,653.9 383.4,658.1 383.4,666.4 390.1,670.5 396.8,666.4 396.8,658.1" fill="#00a7de" stroke="#231815" stroke-width="1.7" stroke-linejoin="miter"/>
<polygon points="347.4,694.6 340.7,698.8 340.7,707.0 347.4,711.2 354.1,707.0 354.1,698.8" fill="#00a7de" stroke="#231815" stroke-width="1.7" stroke-linejoin="miter"/>
<polygon points="355.6,697.7 348.9,701.9 348.9,710.1 355.6,714.3 362.3,710.1 362.3,701.9" fill="#00a7de" stroke="#231815" stroke-width="1.7" stroke-linejoin="miter"/>
<polygon points="363.8,708.9 357.1,713.1 357.1,721.4 363.8,725.5 370.5,721.4 370.5,713.1" fill="#00a7de" stroke="#231815" stroke-width="1.7" stroke-linejoin="miter"/>
<polygon points="370.9,705.9 364.2,710.1 364.2,718.4 370.9,722.5 377.6,718.4 377.6,710.1" fill="#00a7de" stroke="#231815" stroke-width="1.7" stroke-linejoin="miter"/>
<polygon points="480.4,718.3 473.7,722.5 473.7,730.8 480.4,734.9 487.1,730.8 487.1,722.5" fill="#00a7de" stroke="#231815" stroke-width="1.7" stroke-linejoin="miter"/>
<polygon points="500.2,729.7 493.5,733.9 493.5,742.1 500.2,746.3 506.9,742.1 506.9,733.9" fill="#00a7de" stroke="#231815" stroke-width="1.7" stroke-linejoin="miter"/>
</g>
<path d="M85.5 399.5 L85.5 9.8 L671.6 9.8 L671.6 301" fill="none" stroke="#231815" stroke-width="3" stroke-linejoin="round"/>
<line x1="84" y1="399.4" x2="418.7" y2="399.4" stroke="#231815" stroke-width="3"/>
<path d="M418.7 419.3 L84.5 419.3 L84.5 809 L671.3 809 L671.3 479" fill="none" stroke="#231815" stroke-width="3" stroke-linejoin="round"/>
<line x1="86" y1="380.0" x2="92" y2="380.0" stroke="#231815" stroke-width="1.3"/>
<line x1="86" y1="360.5" x2="92" y2="360.5" stroke="#231815" stroke-width="1.3"/>
<line x1="86" y1="341.0" x2="92" y2="341.0" stroke="#231815" stroke-width="1.3"/>
<line x1="86" y1="321.6" x2="92" y2="321.6" stroke="#231815" stroke-width="1.3"/>
<line x1="86" y1="302.1" x2="93" y2="302.1" stroke="#231815" stroke-width="3.6" stroke-linecap="round"/>
<line x1="86" y1="282.6" x2="92" y2="282.6" stroke="#231815" stroke-width="1.3"/>
<line x1="86" y1="263.1" x2="92" y2="263.1" stroke="#231815" stroke-width="1.3"/>
<line x1="86" y1="243.6" x2="92" y2="243.6" stroke="#231815" stroke-width="1.3"/>
<line x1="86" y1="224.1" x2="92" y2="224.1" stroke="#231815" stroke-width="1.3"/>
<line x1="86" y1="204.7" x2="93" y2="204.7" stroke="#231815" stroke-width="3.6" stroke-linecap="round"/>
<line x1="86" y1="185.2" x2="92" y2="185.2" stroke="#231815" stroke-width="1.3"/>
<line x1="86" y1="165.7" x2="92" y2="165.7" stroke="#231815" stroke-width="1.3"/>
<line x1="86" y1="146.2" x2="92" y2="146.2" stroke="#231815" stroke-width="1.3"/>
<line x1="86" y1="126.7" x2="92" y2="126.7" stroke="#231815" stroke-width="1.3"/>
<line x1="86" y1="107.2" x2="93" y2="107.2" stroke="#231815" stroke-width="3.6" stroke-linecap="round"/>
<line x1="86" y1="87.7" x2="92" y2="87.7" stroke="#231815" stroke-width="1.3"/>
<line x1="86" y1="68.3" x2="92" y2="68.3" stroke="#231815" stroke-width="1.3"/>
<line x1="86" y1="48.8" x2="92" y2="48.8" stroke="#231815" stroke-width="1.3"/>
<line x1="86" y1="29.3" x2="92" y2="29.3" stroke="#231815" stroke-width="1.3"/>
<line x1="168.5" y1="398" x2="168.5" y2="391.5" stroke="#231815" stroke-width="3.4" stroke-linecap="round"/>
<line x1="252.2" y1="398" x2="252.2" y2="391.5" stroke="#231815" stroke-width="3.4" stroke-linecap="round"/>
<line x1="336.0" y1="398" x2="336.0" y2="391.5" stroke="#231815" stroke-width="3.4" stroke-linecap="round"/>
<line x1="85" y1="731.2" x2="91.5" y2="731.2" stroke="#231815" stroke-width="3.6" stroke-linecap="round"/>
<line x1="85" y1="653.2" x2="91.5" y2="653.2" stroke="#231815" stroke-width="3.6" stroke-linecap="round"/>
<line x1="85" y1="575.3" x2="91.5" y2="575.3" stroke="#231815" stroke-width="3.6" stroke-linecap="round"/>
<line x1="85" y1="497.3" x2="91.5" y2="497.3" stroke="#231815" stroke-width="3.6" stroke-linecap="round"/>
<line x1="168.0" y1="808" x2="168.0" y2="801.5" stroke="#231815" stroke-width="3.6" stroke-linecap="round"/>
<line x1="251.7" y1="808" x2="251.7" y2="801.5" stroke="#231815" stroke-width="3.6" stroke-linecap="round"/>
<line x1="335.5" y1="808" x2="335.5" y2="801.5" stroke="#231815" stroke-width="3.6" stroke-linecap="round"/>
<line x1="419.2" y1="808" x2="419.2" y2="801.5" stroke="#231815" stroke-width="3.6" stroke-linecap="round"/>
<line x1="502.9" y1="808" x2="502.9" y2="801.5" stroke="#231815" stroke-width="3.6" stroke-linecap="round"/>
<line x1="586.6" y1="808" x2="586.6" y2="801.5" stroke="#231815" stroke-width="3.6" stroke-linecap="round"/>
<rect x="418.7" y="301.5" width="252.5" height="178.3" fill="#fff" stroke="#231815" stroke-width="1.5"/>
<line x1="671.6" y1="300" x2="671.6" y2="399.5" stroke="#231815" stroke-width="3"/>
<path d="M447.8 358.6L458.4 376.0L437.2 376.0Z" fill="#e27b74" stroke="#231815" stroke-width="1.6" stroke-linejoin="miter"/>
<path d="M482.6 358.6L493.2 376.0L472.0 376.0Z" fill="#00a7de" stroke="#231815" stroke-width="1.6" stroke-linejoin="miter"/>
<path d="M437.2 385.1L458.4 385.1L447.8 402.5Z" fill="#e27b74" stroke="#231815" stroke-width="1.6" stroke-linejoin="miter"/>
<path d="M472.0 385.1L493.2 385.1L482.6 402.5Z" fill="#00a7de" stroke="#231815" stroke-width="1.6" stroke-linejoin="miter"/>
<path d="M509.1 385.1L530.3 385.1L519.7 402.5Z" fill="#f9c600" stroke="#231815" stroke-width="1.6" stroke-linejoin="miter"/>
<circle cx="447.8" cy="417.8" r="10.1" fill="#e27b74" stroke="#231815" stroke-width="1.8"/>
<circle cx="482.6" cy="417.8" r="10.1" fill="#00a7de" stroke="#231815" stroke-width="1.8"/>
<circle cx="519.7" cy="417.8" r="10.1" fill="#f9c600" stroke="#231815" stroke-width="1.8"/>
<rect x="474.4" y="433.1" width="16.5" height="16.5" fill="#00a7de" stroke="#231815" stroke-width="1.9"/>
<rect x="511.5" y="433.1" width="16.5" height="16.5" fill="#f9c600" stroke="#231815" stroke-width="1.9"/>
<polygon points="447.8,457.0 441.7,460.8 441.7,468.4 447.8,472.2 453.9,468.4 453.9,460.8" fill="#e27b74" stroke="#231815" stroke-width="1.8" stroke-linejoin="miter"/>
<polygon points="482.6,457.0 476.5,460.8 476.5,468.4 482.6,472.2 488.7,468.4 488.7,460.8" fill="#00a7de" stroke="#231815" stroke-width="1.8" stroke-linejoin="miter"/>
<polygon points="519.7,457.0 513.6,460.8 513.6,468.4 519.7,472.2 525.8,468.4 525.8,460.8" fill="#f9c600" stroke="#231815" stroke-width="1.8" stroke-linejoin="miter"/>
<text x="544" y="378.2" font-size="20">basalt</text>
<text x="544" y="400.8" font-size="20">dolerite</text>
<text x="544" y="423.2" font-size="20">gabbro</text>
<text x="544" y="446.2" font-size="20">plagiogranite</text>
<text x="544" y="470.8" font-size="20">Ishikawa2007</text>
<text font-size="20.5" font-weight="bold" transform="translate(444.5,354.6) rotate(-29.5)">Ocussi</text>
<text font-size="20.5" font-weight="bold" transform="translate(477.8,357) rotate(-29.5)">Atapupu</text>
<text font-size="20.5" font-weight="bold" transform="translate(521.5,355.5) rotate(-29.5)">Moa</text>
<rect x="471.9" y="479.9" width="199" height="75.5" fill="#fff" stroke="#231815" stroke-width="1.5"/>
<line x1="671.3" y1="478" x2="671.3" y2="810" stroke="#231815" stroke-width="3"/>
<rect x="486.2" y="492.0" width="12.8" height="12.8" fill="#c0c0c0" stroke="#231815" stroke-width="1.2"/>
<path d="M485.7 517.2L499.5 517.2L492.6 529.2Z" fill="#c0c0c0" stroke="#231815" stroke-width="1.2" stroke-linejoin="miter"/>
<path d="M492.6 534.8L499.5 547.8L485.7 547.8Z" fill="#808080" stroke="#231815" stroke-width="1.2" stroke-linejoin="miter"/>
<text x="515.4" y="505" font-size="19">NBB (12-7 Ma)</text>
<text x="515.4" y="526.3" font-size="19">SBB (6.5-3.5 Ma)</text>
<text x="515.4" y="548.1" font-size="19">BA (&lt;8 Ma)</text>
<text transform="translate(73.8,18.00000000000001) scale(0.92,1)" font-size="23" font-weight="bold" text-anchor="end">20</text>
<text transform="translate(73.8,115.42500000000003) scale(0.92,1)" font-size="23" font-weight="bold" text-anchor="end">15</text>
<text transform="translate(73.8,212.85) scale(0.92,1)" font-size="23" font-weight="bold" text-anchor="end">10</text>
<text transform="translate(73.8,310.275) scale(0.92,1)" font-size="23" font-weight="bold" text-anchor="end">5</text>
<text transform="translate(73.8,407.7) scale(0.92,1)" font-size="23" font-weight="bold" text-anchor="end">0</text>
<text transform="translate(73,427.5) scale(0.92,1)" font-size="23" font-weight="bold" text-anchor="end">2.5</text>
<text transform="translate(73,505.48) scale(0.92,1)" font-size="23" font-weight="bold" text-anchor="end">2.0</text>
<text transform="translate(73,583.46) scale(0.92,1)" font-size="23" font-weight="bold" text-anchor="end">1.5</text>
<text transform="translate(73,661.44) scale(0.92,1)" font-size="23" font-weight="bold" text-anchor="end">1.0</text>
<text transform="translate(73,739.4200000000001) scale(0.92,1)" font-size="23" font-weight="bold" text-anchor="end">0.5</text>
<text transform="translate(73,817.4000000000001) scale(0.92,1)" font-size="23" font-weight="bold" text-anchor="end">0.0</text>
<text transform="translate(84.3,842.4) scale(0.94,1)" font-size="23" font-weight="bold" text-anchor="middle">0</text>
<text transform="translate(168.0,842.4) scale(0.94,1)" font-size="23" font-weight="bold" text-anchor="middle">2</text>
<text transform="translate(251.7,842.4) scale(0.94,1)" font-size="23" font-weight="bold" text-anchor="middle">4</text>
<text transform="translate(335.5,842.4) scale(0.94,1)" font-size="23" font-weight="bold" text-anchor="middle">6</text>
<text transform="translate(419.2,842.4) scale(0.94,1)" font-size="23" font-weight="bold" text-anchor="middle">8</text>
<text transform="translate(502.9,842.4) scale(0.94,1)" font-size="23" font-weight="bold" text-anchor="middle">10</text>
<text transform="translate(586.6,842.4) scale(0.94,1)" font-size="23" font-weight="bold" text-anchor="middle">12</text>
<text transform="translate(670.3,842.4) scale(0.94,1)" font-size="23" font-weight="bold" text-anchor="middle">14</text>
<text x="372.5" y="871.5" font-size="24.5" font-weight="bold" text-anchor="middle">MgO (wt%)</text>
<text font-size="24.5" font-weight="bold" text-anchor="middle" transform="translate(23,187.6) rotate(-90)">FeO* (wt%)</text>
<text font-size="25.3" font-weight="bold" text-anchor="middle" transform="translate(20.3,605.7) rotate(-90)">TiO<tspan font-size="20" dy="4.5">2</tspan><tspan dy="-4.5"> (wt%)</tspan></text>
<text x="96.5" y="41" font-size="27.5" font-weight="bold" text-anchor="start">(a)</text>
<text x="93.5" y="452.5" font-size="27.5" font-weight="bold" text-anchor="start">(b)</text>
<text x="147" y="110.7" font-size="24.5" font-weight="bold" text-anchor="start">TH (high-Fe)</text>
<text x="128.7" y="184.3" font-size="24.5" font-weight="bold" text-anchor="start">TH (med.-Fe)</text>
<text x="261.2" y="333.5" font-size="24.5" font-weight="bold" text-anchor="start">CA (low-Fe)</text>
<text x="204" y="490.7" font-size="21.8" font-weight="bold" text-anchor="middle">backarc+forearc</text>
<text x="204" y="516.5" font-size="21.8" font-weight="bold" text-anchor="middle">(incipient spreading)</text>
<text x="396.7" y="501.7" font-size="21.8" font-weight="bold" text-anchor="middle">mid-ocean</text>
<text x="396.7" y="528.2" font-size="21.8" font-weight="bold" text-anchor="middle">ridge</text>
<text x="536.8" y="784" font-size="21.8" font-weight="bold" text-anchor="middle">boninite</text>
<text x="170.5" y="670.8" font-size="21.8" font-weight="bold" text-anchor="start">arc</text>
<text x="305.5" y="783.6" font-size="21.8" font-weight="bold" text-anchor="start">forearc</text>
</svg></body></html>
